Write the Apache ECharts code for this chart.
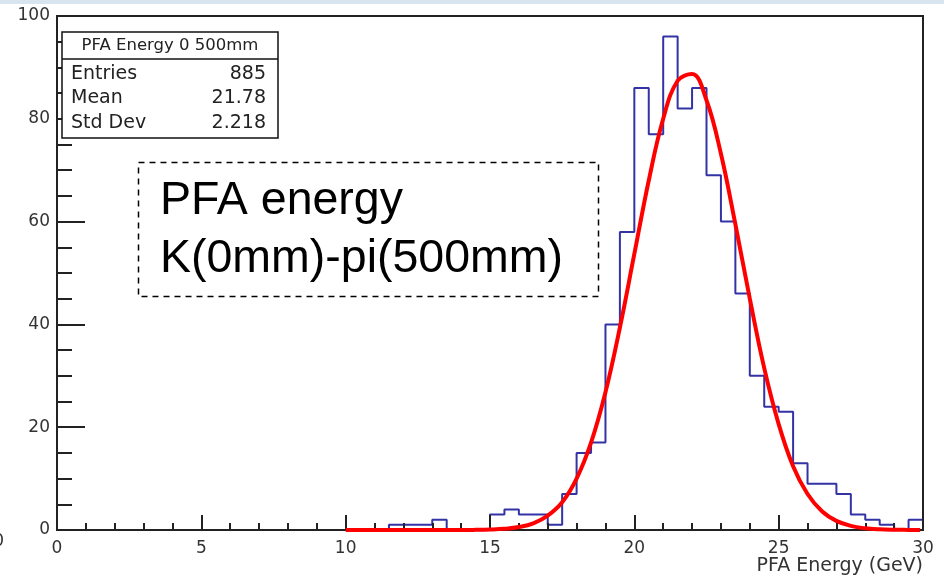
<!DOCTYPE html>
<html><head><meta charset="utf-8">
<script src="https://cdn.jsdelivr.net/npm/echarts@6/dist/echarts.min.js"></script>
<style>html,body{margin:0;padding:0;background:#fff}#c{width:944px;height:578px}</style>
</head><body><div id="c"></div>
<script>
// Histogram bins (lower edges, GeV) and counts
const binLow = [10,10.5,11,11.5,12,12.5,13,13.5,14,14.5,15,15.5,16,16.5,17,17.5,18,18.5,19,19.5,
                20,20.5,21,21.5,22,22.5,23,23.5,24,24.5,25,25.5,26,26.5,27,27.5,28,28.5,29,29.5];
const counts = [0,0,0,1,1,1,2,0,0,0,3,4,3,3,1,7,15,17,40,58,
                86,77,96,82,86,69,60,46,30,24,23,13,9,9,7,3,2,1,0,2];
const histUpper = 30;
// Gaussian fit curve
const fitX = [10,11,12,13,14,14.5,15,15.5,16,16.5,17,17.5,18,18.5,19,19.5,20,20.5,21,21.5,
              22,22.5,23,23.5,24,24.5,25,25.5,26,26.5,27,27.5,28,28.5,29,29.5,29.9];
const fitY = [0,0,0,0,0,0.03,0.09,0.23,0.57,1.3,2.8,5.4,10.0,17.0,26.8,39.4,53.7,68.0,80.0,87.4,
              88.7,83.6,73.2,59.5,45.0,31.5,20.6,12.4,7.0,3.65,1.77,0.8,0.33,0.13,0.05,0.02,0];
// Axes
const xMin = 0, xMax = 30, xStep = 5;
const yMin = 0, yMax = 100, yStep = 20;
const xTitle = 'PFA Energy (GeV)';
// Stats box
const statsTitle = 'PFA Energy 0 500mm';
const statsNames = ['Entries', 'Mean', 'Std Dev'];
const statsValues = ['885', '21.78', '2.218'];
// Annotation
const noteLines = ['PFA energy', 'K(0mm)-pi(500mm)'];

const histData = binLow.map((x, i) => [x, counts[i]]);
histData.push([histUpper, counts[counts.length - 1]]);
const fitData = fitX.map((x, i) => [x, fitY[i]]);

const rootFont = 'DejaVu Sans';
const chart = echarts.init(document.getElementById('c'), null, {renderer: 'canvas'});

const statsRowsY = [74, 98.5, 123];
const graphics = [
  {type: 'rect', shape: {x: 0, y: 0, width: 944, height: 4}, style: {fill: '#d8e4ee'}, z: 100},
  {type: 'rect', shape: {x: 62, y: 32, width: 216, height: 106},
   style: {fill: '#fff', stroke: '#111', lineWidth: 1.5}, z: 100},
  {type: 'line', shape: {x1: 62, y1: 59, x2: 278, y2: 59}, style: {stroke: '#111', lineWidth: 1.5}, z: 101},
  {type: 'text', x: 170, y: 45.5, z: 101,
   style: {text: statsTitle, fontFamily: rootFont, fontSize: 16.5, fill: '#222', align: 'center', verticalAlign: 'middle'}},
  {type: 'rect', shape: {x: 138.5, y: 162.5, width: 460, height: 134},
   style: {fill: 'rgba(255,255,255,0)', stroke: '#000', lineWidth: 1.5, lineDash: [6, 5]}, z: 100},
  {type: 'text', x: 160, y: 201, z: 101,
   style: {text: noteLines[0], fontFamily: 'Liberation Sans', fontSize: 46.5, fill: '#000', align: 'left', verticalAlign: 'middle'}},
  {type: 'text', x: 160, y: 259, z: 101,
   style: {text: noteLines[1], fontFamily: 'Liberation Sans', fontSize: 46.5, fill: '#000', align: 'left', verticalAlign: 'middle'}},
  {type: 'text', x: 923, y: 566, z: 101,
   style: {text: xTitle, fontFamily: rootFont, fontSize: 19, fill: '#333', align: 'right', verticalAlign: 'middle'}},
  {type: 'text', x: 4, y: 542, z: 101,
   style: {text: '0', fontFamily: rootFont, fontSize: 17, fill: '#333', align: 'right', verticalAlign: 'middle'}}
];
statsNames.forEach((n, i) => {
  graphics.push({type: 'text', x: 71, y: statsRowsY[i], z: 101,
    style: {text: n, fontFamily: rootFont, fontSize: 19, fill: '#222', align: 'left', verticalAlign: 'middle'}});
  graphics.push({type: 'text', x: 266, y: statsRowsY[i], z: 101,
    style: {text: statsValues[i], fontFamily: rootFont, fontSize: 19, fill: '#222', align: 'right', verticalAlign: 'middle'}});
});

chart.setOption({
  animation: false,
  backgroundColor: '#fff',
  grid: {left: 57, top: 16, width: 866, height: 514, show: true, borderColor: '#222', borderWidth: 2, backgroundColor: 'transparent'},
  xAxis: {
    type: 'value', min: xMin, max: xMax, interval: xStep, z: 5,
    axisLine: {show: true, onZero: false, lineStyle: {color: '#222', width: 2}},
    axisTick: {show: true, inside: true, length: 15, lineStyle: {color: '#222', width: 2}},
    minorTick: {show: true, splitNumber: 5, length: 7, lineStyle: {color: '#222', width: 2}},
    axisLabel: {color: '#333', fontFamily: rootFont, fontSize: 17, margin: 10, showMinLabel: true, showMaxLabel: true},
    splitLine: {show: false}
  },
  yAxis: {
    type: 'value', min: yMin, max: yMax, interval: yStep, z: 5,
    axisLine: {show: true, onZero: false, lineStyle: {color: '#222', width: 2}},
    axisTick: {show: true, inside: true, length: 28, lineStyle: {color: '#222', width: 2}},
    minorTick: {show: true, splitNumber: 4, length: 15, lineStyle: {color: '#222', width: 2}},
    axisLabel: {color: '#333', fontFamily: rootFont, fontSize: 17, margin: 7, padding: [5, 0, 0, 0], showMinLabel: true, showMaxLabel: true},
    splitLine: {show: false}
  },
  series: [
    {type: 'line', data: histData, step: 'end', showSymbol: false, z: 2, clip: true,
     lineStyle: {color: '#3333a6', width: 2}},
    {type: 'line', data: fitData, smooth: 0.4, showSymbol: false, z: 8, clip: true,
     lineStyle: {color: '#ff0000', width: 4}}
  ],
  graphic: graphics
});
</script></body></html>
